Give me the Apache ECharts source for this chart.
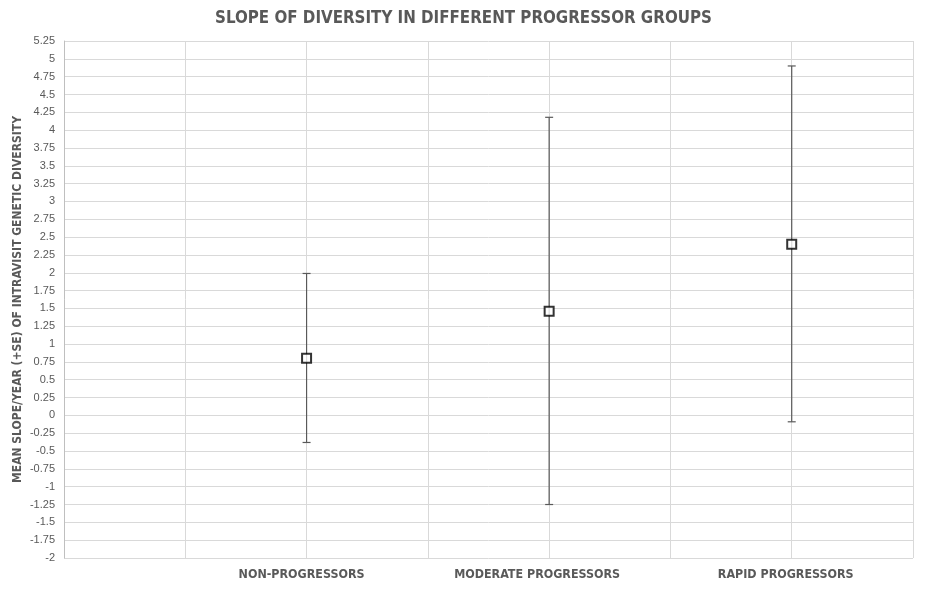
<!DOCTYPE html>
<html>
<head>
<meta charset="utf-8">
<script src="https://cdn.jsdelivr.net/npm/echarts@6/dist/echarts.min.js"></script>
<style>html,body{margin:0;padding:0;background:#fff}#c{width:927px;height:590px}</style>
</head>
<body>
<div id="c"></div>
<script>
const categories = ['NON-PROGRESSORS', 'MODERATE PROGRESSORS', 'RAPID PROGRESSORS'];
const xPositions = [2, 4, 6];
const means = [0.80, 1.46, 2.40];
const upper = [1.99, 4.18, 4.90];
const lower = [-0.38, -1.25, -0.09];
const yTicks = { min: -2, max: 5.25, interval: 0.25 };

const chart = echarts.init(document.getElementById('c'));
const gray = '#595959';
const pointData = xPositions.map((x, i) => [x, means[i]]);
const errData = xPositions.map((x, i) => [x, lower[i], upper[i]]);
const labelStyle = { fontFamily: 'DejaVu Sans Condensed', fontWeight: 'bold', fontSize: 12.4, color: gray };

chart.setOption({
  animation: false,
  title: {
    text: 'SLOPE OF DIVERSITY IN DIFFERENT PROGRESSOR GROUPS',
    left: 'center', top: 5,
    textStyle: { fontFamily: 'DejaVu Sans Condensed', fontWeight: 'bold', fontSize: 16.8, color: gray }
  },
  grid: { left: 64, right: 14, top: 41, bottom: 32, containLabel: false, outerBoundsMode: 'none' },
  xAxis: {
    type: 'value', min: 0, max: 7, interval: 1,
    axisLine: { show: false }, axisTick: { show: false },
    splitLine: { show: true, lineStyle: { color: '#d9d9d9', width: 1 } },
    axisLabel: {
      margin: 11,
      formatter: v => { const i = xPositions.indexOf(v); return i >= 0 ? '{c' + i + '|' + categories[i] + '}' : ''; },
      rich: {
        c0: Object.assign({ padding: [0, 10, 0, 0] }, labelStyle),
        c1: Object.assign({ padding: [0, 24, 0, 0] }, labelStyle),
        c2: Object.assign({ padding: [0, 12, 0, 0] }, labelStyle)
      }
    }
  },
  yAxis: {
    type: 'value', min: yTicks.min, max: yTicks.max, interval: yTicks.interval,
    name: 'MEAN SLOPE/YEAR (+SE) OF INTRAVISIT GENETIC DIVERSITY',
    nameLocation: 'middle', nameGap: 40, nameMoveOverlap: false,
    nameTextStyle: { fontFamily: 'DejaVu Sans Condensed', fontWeight: 'bold', fontSize: 12, color: gray },
    axisLine: { show: true, lineStyle: { color: '#bfbfbf' } }, axisTick: { show: false },
    splitLine: { show: true, lineStyle: { color: '#d9d9d9', width: 1 } },
    axisLabel: { fontFamily: 'Liberation Sans', fontSize: 11, color: gray, margin: 9 }
  },
  series: [
    {
      type: 'custom',
      data: errData,
      z: 3,
      renderItem: (params, api) => {
        const x = api.value(0);
        const lo = api.coord([x, api.value(1)]);
        const hi = api.coord([x, api.value(2)]);
        const cap = 4;
        const style = { stroke: gray, lineWidth: 1.2 };
        return {
          type: 'group',
          children: [
            { type: 'line', shape: { x1: lo[0], y1: lo[1], x2: hi[0], y2: hi[1] }, style },
            { type: 'line', shape: { x1: lo[0] - cap, y1: lo[1], x2: lo[0] + cap, y2: lo[1] }, style },
            { type: 'line', shape: { x1: hi[0] - cap, y1: hi[1], x2: hi[0] + cap, y2: hi[1] }, style }
          ]
        };
      }
    },
    {
      type: 'scatter',
      data: pointData,
      z: 5,
      symbol: 'rect', symbolSize: 9,
      itemStyle: { color: '#fff', borderColor: '#000', borderWidth: 2 }
    }
  ]
});
</script>
</body>
</html>
